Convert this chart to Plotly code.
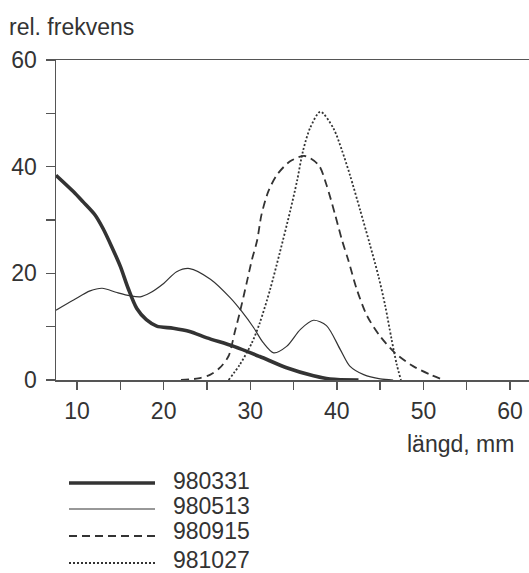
import plotly.graph_objects as go

# ---------------- data ----------------
series_names = ["980331", "980513", "980915", "981027"]

x_980331 = [7.57, 9.6, 10.7, 12.1, 13.0, 14.0, 15.0, 15.9, 16.9, 18.0, 19.2, 21.1, 23.0, 25.0, 28.1, 31.1, 34.2, 37.3, 39.2, 42.5]
y_980331 = [38.4, 35.3, 33.4, 30.9, 28.4, 25.0, 21.3, 17.2, 13.4, 11.3, 10.1, 9.7, 9.1, 7.9, 6.3, 4.4, 2.3, 0.8, 0.2, 0.0]

x_980513 = [7.57, 9.6, 11.5, 12.9, 14.6, 16.1, 17.3, 18.4, 20.0, 21.5, 23.0, 25.4, 27.7, 29.0, 30.4, 31.5, 32.7, 34.2, 35.8, 37.3, 38.8, 40.4, 41.5, 43.1, 45.0, 46.5]
y_980513 = [13.1, 15.0, 16.7, 17.2, 16.4, 15.8, 15.6, 16.3, 18.1, 20.3, 20.9, 18.9, 15.4, 12.9, 9.8, 7.0, 5.1, 6.3, 9.5, 11.2, 10.2, 5.7, 2.6, 1.0, 0.2, 0.0]

x_980915 = [22.0, 24.0, 25.4, 26.5, 27.5, 28.2, 28.8, 29.6, 30.2, 30.8, 31.3, 32.1, 33.1, 34.6, 36.3, 37.9, 38.8, 39.8, 40.6, 41.3, 42.3, 43.5, 45.0, 46.7, 48.8, 50.8, 52.3]
y_980915 = [0.0, 0.3, 1.0, 2.3, 4.5, 8.9, 12.7, 18.3, 22.6, 26.2, 31.0, 35.4, 38.5, 41.0, 42.0, 40.3, 36.6, 31.0, 26.2, 22.6, 17.0, 12.0, 8.2, 5.1, 2.6, 1.0, 0.0]

x_981027 = [27.5, 28.8, 30.2, 31.1, 32.3, 33.4, 34.6, 35.4, 36.1, 36.9, 38.1, 39.6, 40.6, 41.5, 42.7, 43.8, 44.8, 45.6, 46.3, 46.9, 47.4]
y_981027 = [0.0, 2.9, 7.0, 10.7, 17.0, 23.8, 31.6, 37.3, 43.0, 47.2, 50.3, 47.2, 43.0, 38.5, 31.8, 25.5, 19.5, 13.8, 7.8, 3.0, 0.0]

x_tick_vals = [10, 15, 20, 25, 30, 35, 40, 45, 50, 55, 60]
x_tick_text = ["10", "", "20", "", "30", "", "40", "", "50", "", "60"]
y_tick_vals = [0, 10, 20, 30, 40, 50, 60]
y_tick_text = ["0", "", "20", "", "40", "", "60"]

y_title = "rel. frekvens"
x_title = "längd, mm"

# ---------------- styling ----------------
W, H = 529, 573
ML, MR, MT, MB = 56, 0, 60, 193
PW, PH = W - ML - MR, H - MT - MB
INK = "#333333"
AXIS = "#555555"
FONT = "Liberation Sans, Arial, sans-serif"
FS = 23

styles = [
    dict(width=3.6, dash="solid"),
    dict(width=1.2, dash="solid"),
    dict(width=1.8, dash="8px,5px"),
    dict(width=1.8, dash="2px,2px"),
]

xs = [x_980331, x_980513, x_980915, x_981027]
ys = [y_980331, y_980513, y_980915, y_981027]

fig = go.Figure()
for name, x, y, st in zip(series_names, xs, ys, styles):
    fig.add_trace(go.Scatter(
        x=x, y=y, name=name, mode="lines",
        line=dict(color=INK, width=st["width"], dash=st["dash"], shape="spline", smoothing=0.8),
        showlegend=False, hoverinfo="skip",
    ))

# window pixel -> paper coordinate
def px_x(p):
    return (p - ML) / PW

def px_y(p):
    return (H - MB - p) / PH

# legend drawn as lines + labels below the plot
leg_line_y = [483, 509, 536, 563]
leg_text_y = [481, 506, 531, 560]
shapes = []
annotations = []
for name, st, ly, ty in zip(series_names, styles, leg_line_y, leg_text_y):
    shapes.append(dict(
        type="line", xref="paper", yref="paper",
        x0=px_x(69), x1=px_x(155), y0=px_y(ly), y1=px_y(ly),
        line=dict(color=INK, width=st["width"], dash=st["dash"]),
    ))
    annotations.append(dict(
        text=name, xref="paper", yref="paper", x=px_x(171), y=px_y(ty),
        xanchor="left", yanchor="middle", showarrow=False,
        font=dict(family=FONT, size=FS, color=INK),
    ))

annotations.append(dict(
    text=y_title, xref="paper", yref="paper", x=px_x(7), y=px_y(27),
    xanchor="left", yanchor="middle", showarrow=False,
    font=dict(family=FONT, size=FS, color=INK),
))
annotations.append(dict(
    text=x_title, xref="paper", yref="paper", x=px_x(516), y=px_y(444),
    xanchor="right", yanchor="middle", showarrow=False,
    font=dict(family=FONT, size=FS, color=INK),
))

fig.update_layout(
    width=W, height=H,
    margin=dict(l=ML, r=MR, t=MT, b=MB, pad=0),
    paper_bgcolor="white", plot_bgcolor="white",
    showlegend=False,
    shapes=shapes,
    annotations=annotations,
    font=dict(family=FONT, size=FS, color=INK),
    xaxis=dict(
        range=[7.57, 7.57 + PW / 8.66],
        tickmode="array", tickvals=x_tick_vals, ticktext=x_tick_text,
        ticks="outside", ticklen=8, tickwidth=1.4, tickcolor=AXIS,
        showline=True, linecolor=AXIS, linewidth=1.5, mirror=True,
        showgrid=False, zeroline=False,
        tickfont=dict(family=FONT, size=FS, color=INK),
        ticklabelstandoff=2,
    ),
    yaxis=dict(
        range=[0, 60],
        tickmode="array", tickvals=y_tick_vals, ticktext=y_tick_text,
        ticks="outside", ticklen=9, tickwidth=1.4, tickcolor=AXIS,
        showline=True, linecolor=AXIS, linewidth=1.5,
        showgrid=False, zeroline=False,
        tickfont=dict(family=FONT, size=FS, color=INK),
        ticklabelstandoff=4,
    ),
)

fig.write_html(
    "out.html",
    config={"displayModeBar": False, "staticPlot": True},
    post_script="document.body.style.margin='0';document.body.style.overflow='hidden';",
)
